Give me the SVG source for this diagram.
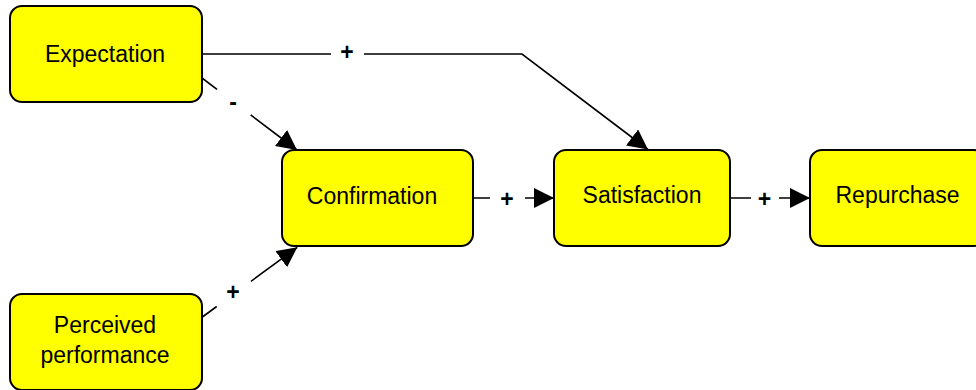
<svg xmlns="http://www.w3.org/2000/svg" width="976" height="390" viewBox="0 0 976 390">
  <defs>
    <marker id="arrow" markerUnits="userSpaceOnUse" markerWidth="20" markerHeight="20" refX="20" refY="10" orient="auto">
      <path d="M0,0 L20,10 L0,20 Z" fill="#000"/>
    </marker>
    <style>
      .box { fill: #ffff00; stroke: #000; stroke-width: 2; }
      .label { font-family: "Liberation Sans", Arial, sans-serif; font-size: 23px; fill: #000; text-anchor: middle; }
      .edge { fill: none; stroke: #000; stroke-width: 1.6; marker-end: url(#arrow); }
      .sign { font-family: "Liberation Sans", Arial, sans-serif; font-size: 23px; font-weight: bold; fill: #000; text-anchor: middle; }
    </style>
  </defs>
  <rect width="976" height="390" fill="#fff"/>

  <g id="connectors">
    <!-- Expectation -> Satisfaction -->
    <path class="edge" d="M202,54 L331,54 M364,54 L522,54 L648,149.5"/>
    <text class="sign" x="347" y="60">+</text>
    <!-- Expectation -> Confirmation -->
    <path class="edge" d="M202,78 L217,89.4 M250.7,114.9 L297,150"/>
    <text class="sign" x="233" y="110">-</text>
    <!-- Perceived performance -> Confirmation -->
    <path class="edge" d="M201,318 L216.7,306.5 M251,281.3 L297.3,247.3"/>
    <text class="sign" x="233" y="299.6">+</text>
    <!-- Confirmation -> Satisfaction -->
    <path class="edge" d="M473,198 L490,198 M525,198 L554,198"/>
    <text class="sign" x="507" y="206.5">+</text>
    <!-- Satisfaction -> Repurchase -->
    <path class="edge" d="M730,198 L751,198 M779,198 L810,198"/>
    <text class="sign" x="764.5" y="206.5">+</text>
  </g>

  <g id="expectation">
    <rect class="box" x="10" y="6" width="192" height="96" rx="12"/>
    <text class="label" x="105" y="62.3">Expectation</text>
  </g>
  <g id="perceived-performance">
    <rect class="box" x="10" y="294" width="192" height="96" rx="12"/>
    <text class="label" x="105" y="333.3">Perceived</text>
    <text class="label" x="105" y="363.3">performance</text>
  </g>
  <g id="confirmation">
    <rect class="box" x="282" y="150" width="191" height="96" rx="12"/>
    <text class="label" x="372" y="203.5">Confirmation</text>
  </g>
  <g id="satisfaction">
    <rect class="box" x="554" y="150" width="176" height="96" rx="12"/>
    <text class="label" x="642" y="203.3">Satisfaction</text>
  </g>
  <g id="repurchase">
    <rect class="box" x="810" y="150" width="176" height="96" rx="12"/>
    <text class="label" x="897.5" y="203.3">Repurchase</text>
  </g>
</svg>
